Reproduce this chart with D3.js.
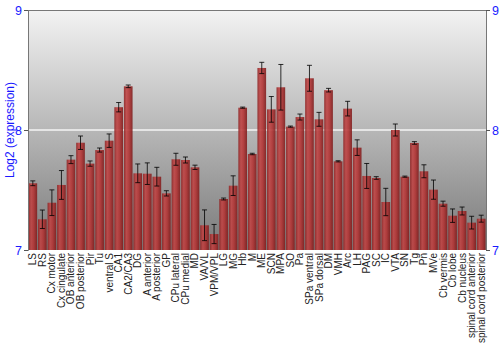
<!DOCTYPE html>
<html><head><meta charset="utf-8">
<script src="https://cdn.jsdelivr.net/npm/d3@7"></script>
<style>body{margin:0;background:#fff}svg{display:block}</style>
</head><body><svg id="c" width="500" height="350"></svg>
<script>
const categories = ["LS","RS","Cx motor","Cx cingulate","OB anterior","OB posterior","Pir","Tu","ventral S","CA1","CA2/CA3","DG","A anterior","A posterior","GP","CPu lateral","CPu medial","MD","VA/VL","VPM/VPL","LG","MG","Hb","M","ME","SCN","MPA","SO","Pa","SPa ventral","SPa dorsal","DM","VMH","Arc","LH","PAG","SC","IC","VTA","SN","Tg","Pn","MVe","Cb vermis","Cb lobe","Cb nucleus","spinal cord anterior","spinal cord posterior"];
const values = [7.556,7.256,7.394,7.542,7.753,7.894,7.72,7.833,7.911,8.19,8.364,7.639,7.636,7.611,7.472,7.756,7.75,7.689,7.206,7.133,7.425,7.536,8.186,7.8,8.517,8.172,8.356,8.028,8.108,8.431,8.089,8.332,7.739,8.178,7.853,7.617,7.6,7.4,8.0,7.611,7.892,7.656,7.503,7.386,7.286,7.325,7.228,7.261];
const errors = [0.02,0.077,0.107,0.12,0.033,0.056,0.022,0.017,0.056,0.039,0.011,0.078,0.09,0.078,0.022,0.05,0.025,0.018,0.128,0.08,0.008,0.082,0.005,0.006,0.047,0.107,0.19,0.005,0.025,0.108,0.058,0.015,0.005,0.061,0.065,0.104,0.011,0.114,0.05,0.005,0.011,0.054,0.08,0.021,0.056,0.033,0.053,0.029];
const yTicks = [7,8,9];

const svg = d3.select("#c");
const m = {l:28, r:14, t:10, b:100};
const W = 500, H = 350;
const x = d3.scaleBand().domain(categories).range([m.l, W-m.r]).paddingInner(0.09).paddingOuter(0.05);
const y = d3.scaleLinear().domain([7,9]).range([H-m.b, m.t]);
const font = "Liberation Sans, Arial, sans-serif";

const defs = svg.append("defs");
const bg = defs.append("linearGradient").attr("id","bg").attr("x1",0).attr("y1",0).attr("x2",0).attr("y2",1);
bg.append("stop").attr("offset","0%").attr("stop-color","#f3f3f3");
bg.append("stop").attr("offset","100%").attr("stop-color","#7a7a7a");
const bh = defs.append("linearGradient").attr("id","bh").attr("x1",0).attr("y1",0).attr("x2",1).attr("y2",0);
bh.append("stop").attr("offset","0%").attr("stop-color","#8e2424");
bh.append("stop").attr("offset","30%").attr("stop-color","#c04545");
bh.append("stop").attr("offset","60%").attr("stop-color","#b23434");
bh.append("stop").attr("offset","100%").attr("stop-color","#7e1c1c");

svg.append("rect").attr("x",m.l).attr("y",m.t).attr("width",W-m.r-m.l).attr("height",H-m.b-m.t).attr("fill","url(#bg)");

svg.append("line").attr("x1",m.l).attr("x2",W-m.r).attr("y1",y(8)).attr("y2",y(8)).attr("stroke","#f4f4f4").attr("stroke-width",1.5);

svg.append("g").selectAll("rect").data(categories).join("rect")
  .attr("x",d=>x(d)).attr("width",x.bandwidth())
  .attr("y",(d,i)=>y(values[i])).attr("height",(d,i)=>y(7)-y(values[i]))
  .attr("fill","url(#bh)").attr("opacity",0.9);

const eg = svg.append("g").attr("stroke","#000").attr("stroke-opacity",0.8).attr("stroke-width",1);
categories.forEach((c,i)=>{
  const cx = x(c)+x.bandwidth()/2;
  const y1 = y(values[i]+errors[i]), y2 = y(values[i]-errors[i]);
  eg.append("line").attr("x1",cx).attr("x2",cx).attr("y1",y1).attr("y2",y2);
  eg.append("line").attr("x1",cx-2.5).attr("x2",cx+2.5).attr("y1",y1).attr("y2",y1);
  eg.append("line").attr("x1",cx-2.5).attr("x2",cx+2.5).attr("y1",y2).attr("y2",y2);
});

svg.append("line").attr("x1",m.l).attr("x2",W-m.r).attr("y1",m.t+0.5).attr("y2",m.t+0.5).attr("stroke","#777");

const la = svg.append("g").attr("transform",`translate(${m.l},0)`).call(d3.axisLeft(y).tickValues(yTicks).tickFormat(d3.format("d")).tickSize(4).tickPadding(2));
const ra = svg.append("g").attr("transform",`translate(${W-m.r},0)`).call(d3.axisRight(y).tickValues(yTicks).tickFormat(d3.format("d")).tickSize(4).tickPadding(2));
[la,ra].forEach(a=>{
  a.select(".domain").attr("stroke","#777");
  a.selectAll(".tick line").attr("stroke","#555");
  a.selectAll("text").attr("fill","#1a1aff").attr("font-family",font).attr("font-size",12.5);
});

svg.append("text").attr("transform",`translate(14,${(m.t+H-m.b)/2}) rotate(-90)`).attr("text-anchor","middle")
  .attr("fill","#1a1aff").attr("font-family",font).attr("font-size",12).text("Log2 (expression)");

svg.append("g").selectAll("text").data(categories).join("text")
  .attr("transform",d=>`translate(${x(d)+x.bandwidth()/2+3.5},${H-m.b+3}) rotate(-90)`)
  .attr("text-anchor","end").attr("fill","#222").attr("font-family",font).attr("font-size",10).text(d=>d);
</script></body></html>
